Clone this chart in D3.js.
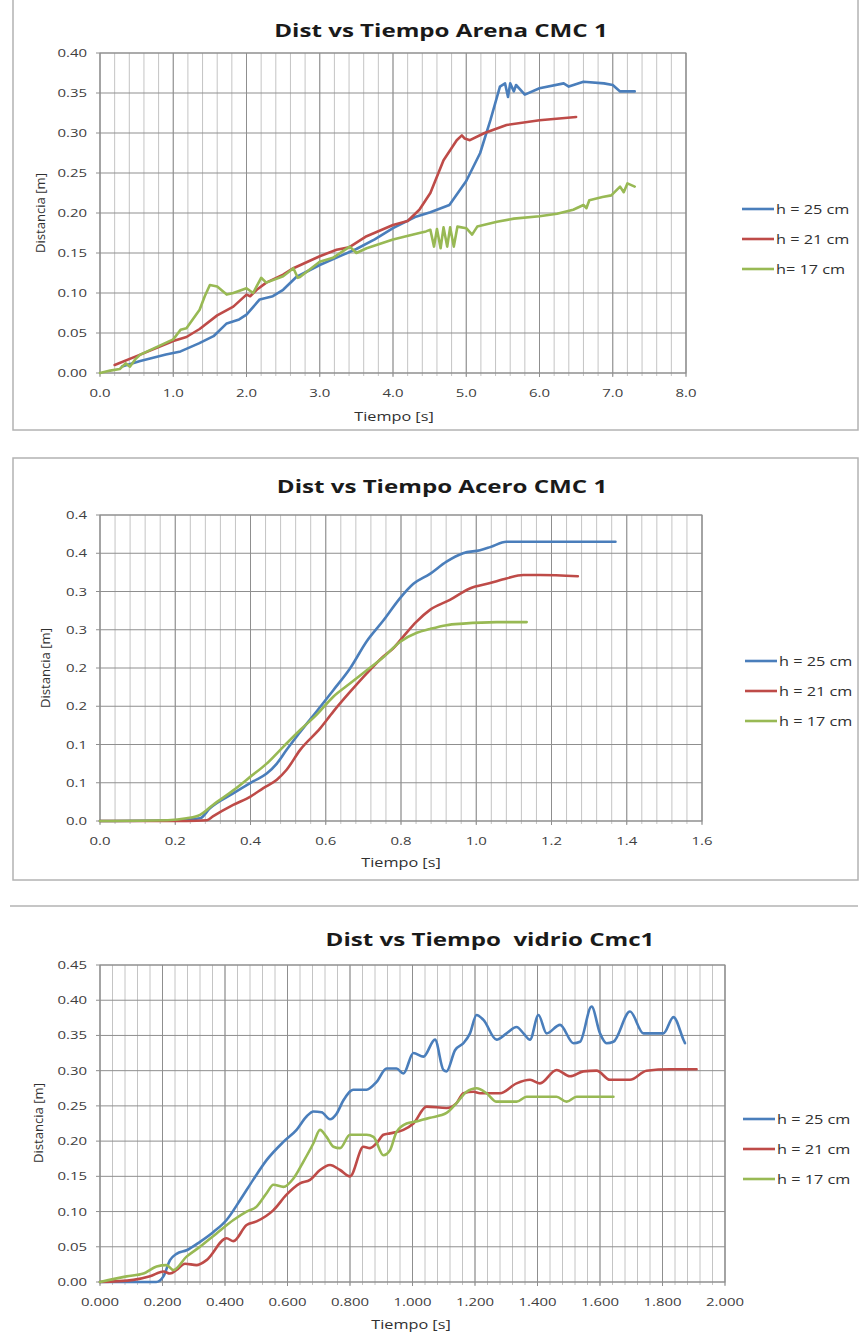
<!DOCTYPE html>
<html>
<head>
<meta charset="utf-8">
<script src="https://cdn.jsdelivr.net/npm/d3@7"></script>
<style>
  html, body { margin: 0; padding: 0; background: #ffffff; }
  svg { display: block; }
  text { white-space: pre; }
</style>
</head>
<body>
<svg id="page" width="860" height="1339"></svg>
<script>
// ---- Series names and colours -------------------------------------------
const seriesNamesArena = ["h = 25 cm", "h = 21 cm", "h= 17 cm"];
const seriesNames = ["h = 25 cm", "h = 21 cm", "h = 17 cm"];
const seriesColors = ["#4A7EBB", "#BE4B48", "#98B954"];

// ---- Tick labels -----------------------------------------------------------
const arenaTimeTicks = ["0.0", "1.0", "2.0", "3.0", "4.0", "5.0", "6.0", "7.0", "8.0"];
const arenaDistTicks = ["0.00", "0.05", "0.10", "0.15", "0.20", "0.25", "0.30", "0.35", "0.40"];
const aceroTimeTicks = ["0.0", "0.2", "0.4", "0.6", "0.8", "1.0", "1.2", "1.4", "1.6"];
const aceroDistTicks = ["0.0", "0.1", "0.1", "0.2", "0.2", "0.3", "0.3", "0.4", "0.4"];
const vidrioTimeTicks = ["0.000", "0.200", "0.400", "0.600", "0.800", "1.000", "1.200", "1.400", "1.600", "1.800", "2.000"];
const vidrioDistTicks = ["0.00", "0.05", "0.10", "0.15", "0.20", "0.25", "0.30", "0.35", "0.40", "0.45"];

// ---- Arena CMC 1: [tiempo s, distancia m] -----------------------------------
const arena25 = [[0.3,0.008],[0.55,0.015],[0.9,0.023],[1.1,0.027],[1.35,0.037],[1.55,0.046],[1.73,0.062],[1.9,0.067],[2.0,0.073],[2.18,0.092],[2.36,0.096],[2.5,0.104],[2.68,0.12],[3.0,0.135],[3.3,0.147],[3.5,0.155],[3.75,0.167],[4.0,0.181],[4.3,0.195],[4.51,0.201],[4.77,0.21],[5.0,0.24],[5.19,0.275],[5.33,0.316],[5.46,0.358],[5.53,0.362],[5.57,0.345],[5.6,0.362],[5.65,0.352],[5.68,0.36],[5.8,0.348],[6.0,0.356],[6.33,0.362],[6.4,0.358],[6.6,0.364],[6.88,0.362],[7.0,0.36],[7.1,0.352],[7.3,0.352]];
const arena21 = [[0.2,0.01],[0.55,0.023],[1.0,0.04],[1.18,0.045],[1.36,0.055],[1.6,0.072],[1.82,0.083],[2.0,0.098],[2.05,0.096],[2.14,0.104],[2.27,0.113],[2.5,0.123],[2.64,0.131],[3.0,0.146],[3.23,0.154],[3.4,0.157],[3.64,0.171],[4.0,0.185],[4.2,0.19],[4.36,0.204],[4.51,0.225],[4.69,0.266],[4.87,0.291],[4.94,0.297],[4.98,0.293],[5.05,0.291],[5.25,0.3],[5.55,0.31],[6.0,0.316],[6.5,0.32]];
const arena17 = [[0.0,0.0],[0.14,0.003],[0.27,0.005],[0.35,0.012],[0.41,0.008],[0.48,0.017],[0.55,0.023],[1.0,0.042],[1.1,0.054],[1.18,0.056],[1.36,0.079],[1.43,0.096],[1.5,0.11],[1.6,0.108],[1.73,0.098],[1.82,0.1],[2.0,0.106],[2.09,0.1],[2.2,0.119],[2.27,0.113],[2.5,0.121],[2.64,0.131],[2.7,0.119],[2.73,0.12],[3.0,0.139],[3.18,0.144],[3.41,0.158],[3.5,0.15],[3.64,0.156],[4.0,0.167],[4.36,0.175],[4.45,0.177],[4.51,0.179],[4.56,0.158],[4.6,0.18],[4.65,0.156],[4.69,0.182],[4.74,0.158],[4.78,0.182],[4.83,0.158],[4.88,0.183],[5.0,0.181],[5.08,0.173],[5.15,0.183],[5.42,0.189],[5.65,0.193],[6.0,0.196],[6.24,0.199],[6.46,0.204],[6.6,0.21],[6.64,0.206],[6.68,0.216],[6.86,0.22],[6.98,0.222],[7.1,0.233],[7.15,0.226],[7.2,0.237],[7.3,0.233]];

// ---- Acero CMC 1 -----------------------------------------------------------
const acero25 = [[0,0],[0.21,0.001],[0.266,0.0035],[0.292,0.0166],[0.354,0.036],[0.408,0.052],[0.443,0.062],[0.47,0.075],[0.496,0.093],[0.53,0.115],[0.585,0.149],[0.62,0.171],[0.664,0.199],[0.709,0.235],[0.753,0.262],[0.797,0.291],[0.833,0.31],[0.877,0.323],[0.921,0.339],[0.965,0.35],[1.01,0.354],[1.037,0.358],[1.08,0.365],[1.37,0.365]];
const acero21 = [[0,0],[0.23,0],[0.284,0.001],[0.3,0.006],[0.354,0.021],[0.4,0.032],[0.434,0.043],[0.47,0.054],[0.496,0.067],[0.532,0.093],[0.585,0.121],[0.62,0.143],[0.665,0.169],[0.709,0.193],[0.753,0.215],[0.78,0.226],[0.806,0.241],[0.84,0.26],[0.877,0.276],[0.93,0.289],[0.983,0.304],[1.037,0.311],[1.08,0.317],[1.125,0.3216],[1.17,0.3216],[1.27,0.32]];
const acero17 = [[0,0],[0.18,0.001],[0.23,0.0035],[0.266,0.008],[0.3,0.021],[0.354,0.04],[0.4,0.058],[0.443,0.075],[0.487,0.097],[0.532,0.119],[0.576,0.139],[0.62,0.1625],[0.665,0.18],[0.709,0.197],[0.753,0.214],[0.797,0.234],[0.842,0.246],[0.877,0.251],[0.921,0.256],[0.965,0.258],[1.054,0.26],[1.134,0.26]];

// ---- Vidrio Cmc1 ---------------------------------------------------------------
const vidrio25 = [[0,0],[0.128,0],[0.18,0],[0.203,0.008],[0.224,0.031],[0.245,0.04],[0.277,0.045],[0.32,0.057],[0.363,0.071],[0.405,0.088],[0.448,0.116],[0.49,0.145],[0.533,0.173],[0.587,0.199],[0.629,0.216],[0.661,0.235],[0.683,0.242],[0.709,0.241],[0.736,0.231],[0.757,0.239],[0.779,0.258],[0.811,0.273],[0.853,0.273],[0.885,0.284],[0.917,0.303],[0.949,0.303],[0.971,0.296],[1.003,0.325],[1.035,0.32],[1.072,0.344],[1.099,0.301],[1.109,0.299],[1.136,0.329],[1.163,0.339],[1.184,0.353],[1.205,0.379],[1.227,0.372],[1.269,0.344],[1.301,0.353],[1.333,0.362],[1.355,0.353],[1.376,0.344],[1.403,0.379],[1.429,0.353],[1.472,0.365],[1.515,0.339],[1.536,0.341],[1.573,0.391],[1.6,0.353],[1.621,0.339],[1.643,0.341],[1.696,0.384],[1.739,0.353],[1.771,0.353],[1.803,0.353],[1.835,0.376],[1.867,0.344],[1.872,0.339]];
const vidrio21 = [[0,0],[0.107,0.003],[0.16,0.008],[0.203,0.015],[0.224,0.012],[0.245,0.017],[0.272,0.026],[0.309,0.024],[0.341,0.031],[0.405,0.062],[0.427,0.058],[0.469,0.081],[0.501,0.086],[0.555,0.102],[0.597,0.124],[0.64,0.14],[0.672,0.145],[0.704,0.159],[0.736,0.166],[0.768,0.159],[0.8,0.15],[0.843,0.192],[0.864,0.19],[0.885,0.197],[0.907,0.209],[0.928,0.211],[0.971,0.216],[1.003,0.225],[1.045,0.249],[1.109,0.247],[1.141,0.254],[1.163,0.268],[1.195,0.27],[1.216,0.268],[1.28,0.268],[1.333,0.282],[1.376,0.287],[1.408,0.282],[1.461,0.301],[1.504,0.292],[1.547,0.299],[1.589,0.3],[1.632,0.287],[1.696,0.287],[1.749,0.3],[1.824,0.302],[1.909,0.302]];
const vidrio17 = [[0,0],[0.085,0.008],[0.139,0.012],[0.181,0.022],[0.213,0.024],[0.235,0.017],[0.277,0.036],[0.32,0.05],[0.373,0.069],[0.427,0.088],[0.469,0.1],[0.501,0.107],[0.533,0.126],[0.555,0.138],[0.587,0.135],[0.619,0.147],[0.651,0.171],[0.683,0.197],[0.704,0.216],[0.725,0.206],[0.747,0.192],[0.768,0.19],[0.8,0.209],[0.853,0.209],[0.875,0.206],[0.907,0.18],[0.928,0.187],[0.949,0.213],[0.981,0.225],[1.013,0.228],[1.056,0.233],[1.109,0.24],[1.141,0.254],[1.173,0.27],[1.205,0.275],[1.237,0.268],[1.269,0.256],[1.333,0.256],[1.365,0.263],[1.461,0.263],[1.493,0.256],[1.525,0.263],[1.643,0.263]];

// ---- Layout ------------------------------------------------------------------
const FONT = "'Open Sans', 'DejaVu Sans', sans-serif";
const SX = 1.3;            // horizontal widening of the lettering
const TEXT_GREY = "#404040";

const charts = [
  {
    title: "Dist vs Tiempo Arena CMC 1", titleX: 441, titleY: 37,
    frame: { x0: 13, y0: -2, x1: 858, y1: 430, sides: "all" },
    plot: { l: 100, r: 686, t: 53, b: 373 },
    xMajor: 1.0, xMinor: 0.2, yStep: 0.05,
    xLabels: arenaTimeTicks, yLabels: arenaDistTicks,
    series: [arena25, arena21, arena17], names: seriesNamesArena,
    curve: d3.curveLinear,
    legend: { x: 742, y: [209, 239, 269] },
    xTitle: { x: 394, y: 421 }, yTitle: { x: 45, y: 213 }
  },
  {
    title: "Dist vs Tiempo Acero CMC 1", titleX: 442, titleY: 493,
    frame: { x0: 13, y0: 458, x1: 858, y1: 880, sides: "all" },
    plot: { l: 100, r: 702, t: 515, b: 821 },
    xMajor: 0.2, xMinor: 0.04, yStep: 0.05,
    xLabels: aceroTimeTicks, yLabels: aceroDistTicks,
    series: [acero25, acero21, acero17], names: seriesNames,
    curve: d3.curveMonotoneX,
    legend: { x: 745, y: [661, 691, 721] },
    xTitle: { x: 401, y: 867 }, yTitle: { x: 50, y: 668 }
  },
  {
    title: "Dist vs Tiempo  vidrio Cmc1", titleX: 490, titleY: 946,
    frame: { x0: 10, y0: 906, x1: 858, y1: 906, sides: "top" },
    plot: { l: 100, r: 725, t: 965, b: 1282 },
    xMajor: 0.2, xMinor: 0.04, yStep: 0.05,
    xLabels: vidrioTimeTicks, yLabels: vidrioDistTicks,
    series: [vidrio25, vidrio21, vidrio17], names: seriesNames,
    curve: d3.curveMonotoneX,
    legend: { x: 743, y: [1119, 1149, 1179] },
    xTitle: { x: 411, y: 1329 }, yTitle: { x: 43, y: 1123 }
  }
];

const svg = d3.select("#page");

// Text helper: widens glyphs horizontally around the anchor point.
function label(g, x, y, str, opt) {
  const o = Object.assign({ size: 12, weight: 400, anchor: "middle", fill: TEXT_GREY, rotate: 0, sx: SX }, opt || {});
  return g.append("text")
    .attr("transform", `translate(${x},${y}) rotate(${o.rotate}) scale(${o.sx},1)`)
    .attr("text-anchor", o.anchor)
    .attr("font-family", FONT)
    .attr("font-size", o.size)
    .attr("font-weight", o.weight)
    .attr("fill", o.fill)
    .attr("xml:space", "preserve")
    .text(str);
}

charts.forEach(c => {
  const g = svg.append("g");
  const xMax = (c.xLabels.length - 1) * c.xMajor;
  const yMax = (c.yLabels.length - 1) * c.yStep;
  const x = d3.scaleLinear().domain([0, xMax]).range([c.plot.l, c.plot.r]);
  const y = d3.scaleLinear().domain([0, yMax]).range([c.plot.b, c.plot.t]);

  // outer chart frame
  if (c.frame.sides === "all") {
    g.append("rect")
      .attr("x", c.frame.x0).attr("y", c.frame.y0)
      .attr("width", c.frame.x1 - c.frame.x0).attr("height", c.frame.y1 - c.frame.y0)
      .attr("fill", "none").attr("stroke", "#b3b3b3").attr("stroke-width", 1.5);
  } else {
    g.append("line")
      .attr("x1", c.frame.x0).attr("x2", c.frame.x1)
      .attr("y1", c.frame.y0).attr("y2", c.frame.y0)
      .attr("stroke", "#b3b3b3").attr("stroke-width", 1.5);
  }

  // minor vertical gridlines
  const nMinor = Math.round(xMax / c.xMinor);
  const minorVals = d3.range(0, nMinor + 1).map(i => i * c.xMinor);
  g.append("g").selectAll("line").data(minorVals).join("line")
    .attr("x1", d => x(d)).attr("x2", d => x(d))
    .attr("y1", c.plot.t).attr("y2", c.plot.b + 3)
    .attr("stroke", "#c4c4c4").attr("stroke-width", 1);

  // major vertical gridlines
  const majorVals = c.xLabels.map((_, i) => i * c.xMajor);
  g.append("g").selectAll("line").data(majorVals).join("line")
    .attr("x1", d => x(d)).attr("x2", d => x(d))
    .attr("y1", c.plot.t).attr("y2", c.plot.b + 4)
    .attr("stroke", "#8f8f8f").attr("stroke-width", 1);

  // horizontal gridlines
  const yVals = c.yLabels.map((_, i) => i * c.yStep);
  g.append("g").selectAll("line").data(yVals).join("line")
    .attr("x1", c.plot.l - 4).attr("x2", c.plot.r)
    .attr("y1", d => y(d)).attr("y2", d => y(d))
    .attr("stroke", "#8f8f8f").attr("stroke-width", 1);

  // plot border
  g.append("rect")
    .attr("x", c.plot.l).attr("y", c.plot.t)
    .attr("width", c.plot.r - c.plot.l).attr("height", c.plot.b - c.plot.t)
    .attr("fill", "none").attr("stroke", "#8f8f8f").attr("stroke-width", 1);

  // tick labels
  const xl = g.append("g");
  c.xLabels.forEach((t, i) => label(xl, x(majorVals[i]), c.plot.b + 24, t, { size: 11.5 }));
  const yl = g.append("g");
  c.yLabels.forEach((t, i) => label(yl, c.plot.l - 13, y(yVals[i]) + 4, t, { size: 11.5, anchor: "end" }));

  // series lines
  const line = d3.line().x(d => x(d[0])).y(d => y(d[1])).curve(c.curve);
  g.append("g").selectAll("path").data(c.series).join("path")
    .attr("d", line)
    .attr("fill", "none")
    .attr("stroke", (d, i) => seriesColors[i])
    .attr("stroke-width", 2.6)
    .attr("stroke-linejoin", "round")
    .attr("stroke-linecap", "round");

  // titles
  label(g, c.titleX, c.titleY, c.title, { size: 18, weight: 700, fill: "#1a1a1a", sx: 1.34 });
  label(g, c.xTitle.x, c.xTitle.y, "Tiempo [s]", { size: 12.5, fill: "#303030" });
  label(g, c.yTitle.x, c.yTitle.y, "Distancia [m]", { size: 12.5, fill: "#303030", rotate: -90, sx: 1.05 });

  // legend
  const lg = g.append("g");
  c.names.forEach((n, i) => {
    const ly = c.legend.y[i];
    lg.append("line")
      .attr("x1", c.legend.x).attr("x2", c.legend.x + 32)
      .attr("y1", ly).attr("y2", ly)
      .attr("stroke", seriesColors[i]).attr("stroke-width", 2.6);
    label(lg, c.legend.x + 34, ly + 4.5, n, { size: 12.5, anchor: "start", fill: "#303030" });
  });
});
</script>
</body>
</html>
